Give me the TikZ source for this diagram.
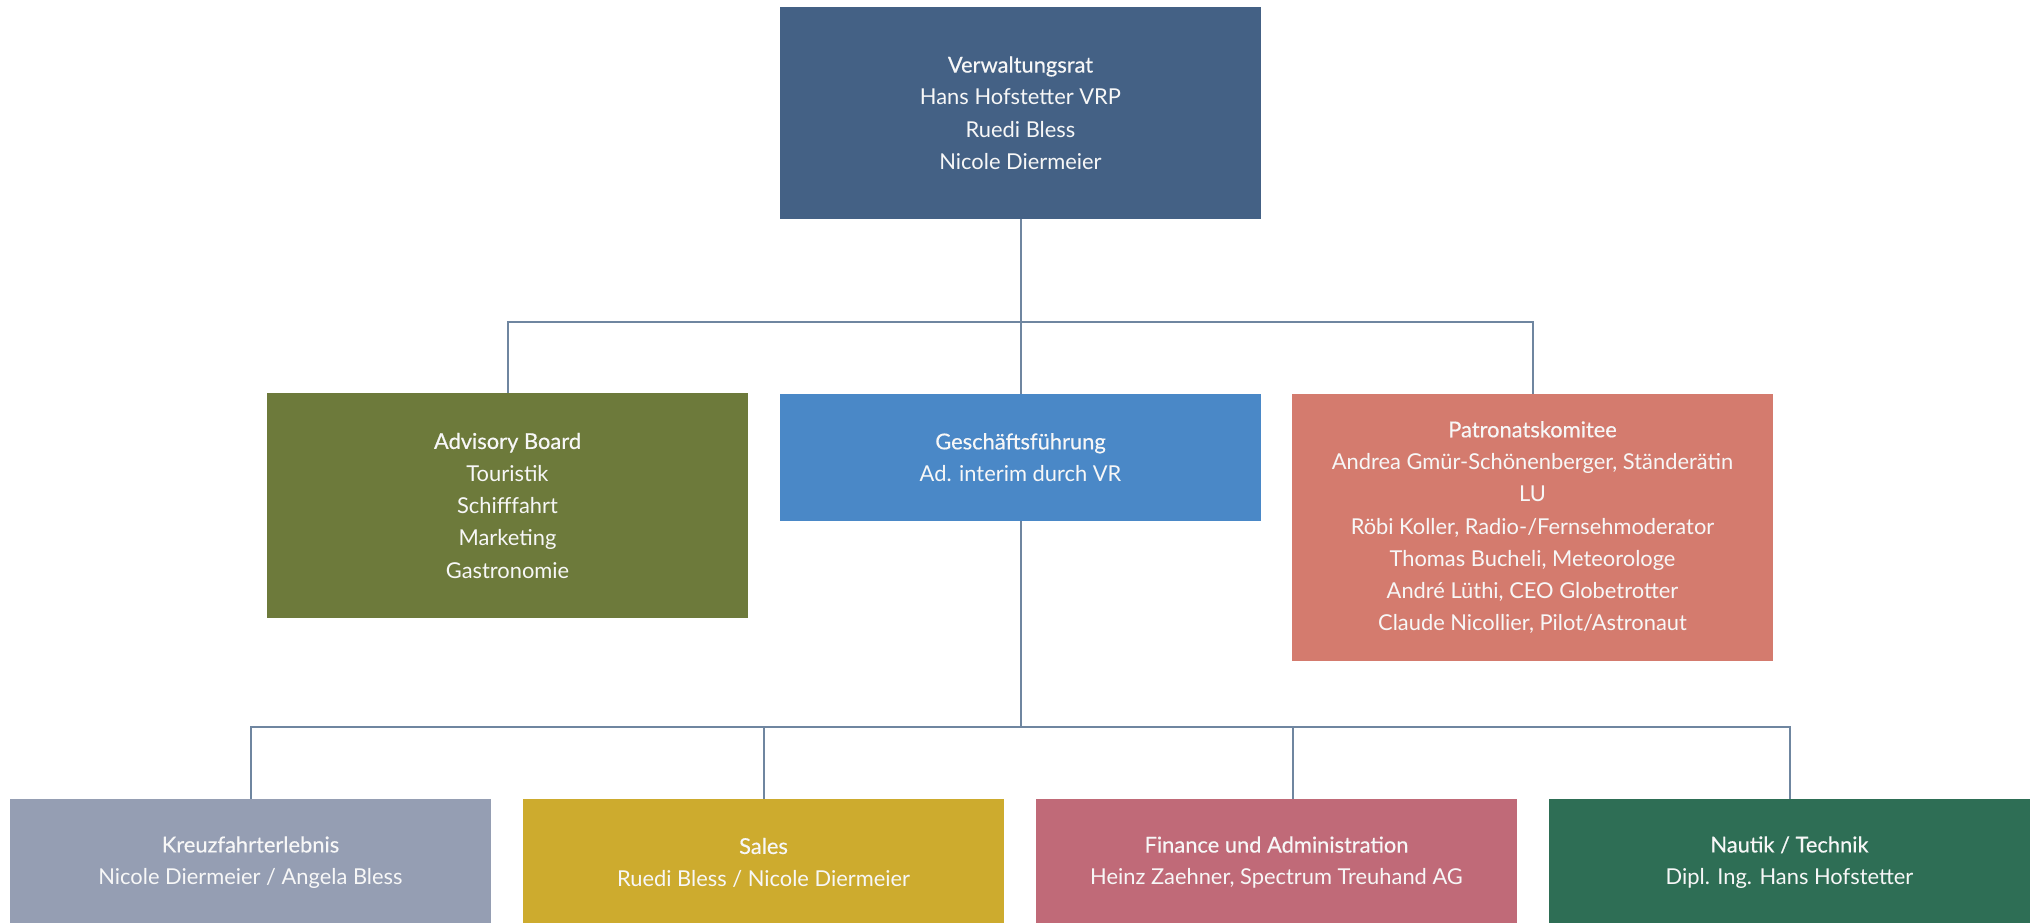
\documentclass[tikz,border=0pt]{standalone}
\usepackage{fontspec}
\setmainfont{Lato}
\newfontfamily\headfont{Lato}[FakeBold=0.35]
\definecolor{cVR}{HTML}{446185}
\definecolor{cAdv}{HTML}{6D7A3B}
\definecolor{cGF}{HTML}{4A88C7}
\definecolor{cPat}{HTML}{D47B6E}
\definecolor{cKr}{HTML}{959EB3}
\definecolor{cSal}{HTML}{CDAB2E}
\definecolor{cFin}{HTML}{C06A78}
\definecolor{cNau}{HTML}{2E6E55}
\definecolor{cLine}{HTML}{6F86A0}
\definecolor{cTxt}{HTML}{F7F7F7}
\tikzset{
  orgbox/.style={fill=#1, draw=none, inner sep=0pt, minimum width=360.75pt,
    align=center, text=cTxt, font=\fontsize{16.4}{24.2}\selectfont},
  conn/.style={draw=cLine, line width=1.5pt}
}
\begin{document}
\begin{tikzpicture}[x=0.75pt,y=-0.75pt]
\useasboundingbox (0,0) rectangle (2035,922);
\clip (0,0) rectangle (2035,922);
\node[orgbox=cVR, minimum height=159pt] (vr) at (1020.5,113)
  {{\headfont Verwaltungsrat}\\Hans Hofstetter VRP\\Ruedi Bless\\Nicole Diermeier};
\node[orgbox=cAdv, minimum height=168.75pt] (adv) at (507.5,505.5)
  {{\headfont Advisory Board}\\Touristik\\Schifffahrt\\Marketing\\Gastronomie};
\node[orgbox=cGF, minimum height=95.25pt] (gf) at (1020.5,457.5)
  {{\headfont Geschäftsführung}\\Ad. interim durch VR};
\node[orgbox=cPat, minimum height=200.25pt] (pat) at (1532.5,527.5)
  {{\headfont Patronatskomitee}\\Andrea Gmür-Schönenberger, Ständerätin\\LU\\Röbi Koller, Radio-/Fernsehmoderator\\Thomas Bucheli, Meteorologe\\André Lüthi, CEO Globetrotter\\Claude Nicollier, Pilot/Astronaut};
\node[orgbox=cKr, minimum height=95.25pt] (kr) at (250.5,862.5)
  {{\headfont Kreuzfahrterlebnis}\\Nicole Diermeier / Angela Bless};
\node[orgbox=cSal, minimum height=95.25pt] (sal) at (763.5,862.5)
  {{\headfont Sales}\\Ruedi Bless / Nicole Diermeier};
\node[orgbox=cFin, minimum height=95.25pt] (fin) at (1276.5,862.5)
  {{\headfont Finance und Administration}\\Heinz Zaehner, Spectrum Treuhand AG};
\node[orgbox=cNau, minimum height=95.25pt] (nau) at (1789.5,862.5)
  {{\headfont Nautik / Technik}\\Dipl. Ing. Hans Hofstetter};
\coordinate (j1) at (1020.5,322);
\coordinate (j2) at (1020.5,726.7);
\draw[conn] (vr.south) -- (gf.north);
\draw[conn] (adv.north) |- (j1) -| (pat.north);
\draw[conn] (gf.south) -- (j2);
\draw[conn] (kr.north) |- (j2) -| (nau.north);
\draw[conn] (sal.north) -- (sal.north |- j2);
\draw[conn] ([xshift=12.4pt]fin.north) -- ([xshift=12.4pt]fin.north |- j2);
\end{tikzpicture}
\end{document}
